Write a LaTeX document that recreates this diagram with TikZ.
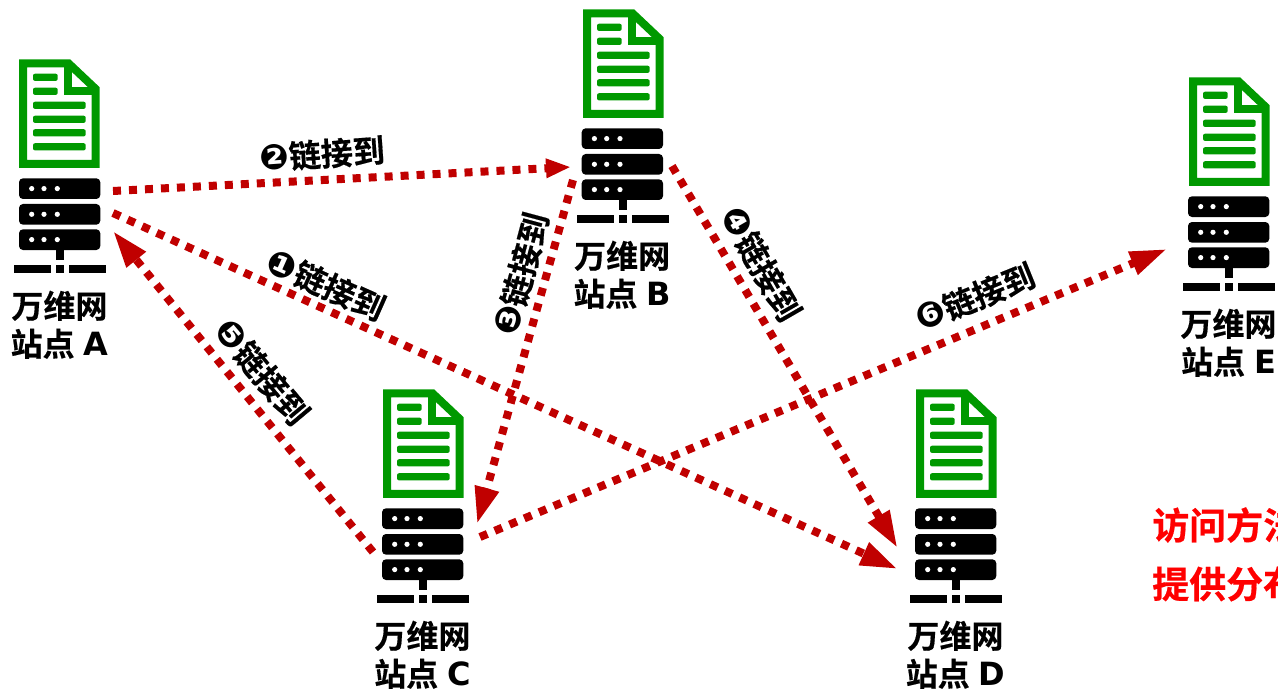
\documentclass[tikz,border=0pt]{standalone}
\usepackage{fontspec}
\setmainfont{Noto Sans CJK SC}[BoldFont={Noto Sans CJK SC Bold},BoldFeatures={FakeBold=0.5}]
\newfontfamily\numfont{DejaVu Sans}
\usetikzlibrary{arrows.meta}
\definecolor{docgreen}{HTML}{009900}
\definecolor{linkred}{HTML}{C00000}
\newcommand{\circnum}[1]{{\fontsize{35}{35}\selectfont\numfont #1}}
\tikzset{
  x=1pt,y=-1pt,
  docline/.style={docgreen,line width=8pt,line join=miter},
  docbar/.style={fill=docgreen,rounded corners=2pt},
  rack/.style={fill=black,rounded corners=4pt},
  led/.style={fill=white},
  sitelabel/.style={font=\fontsize{32}{32}\selectfont\bfseries,inner sep=0pt,anchor=center},
  linktext/.style={font=\fontsize{32}{32}\selectfont\bfseries,inner sep=0pt,anchor=center},
  link/.style={linkred,line width=8pt,dash pattern=on 8pt off 8pt,
    -{Triangle[length=37pt,width=23pt,sep=0pt]}},
  shortlink/.style={linkred,line width=8pt,dash pattern=on 8pt off 8pt,
    -{Triangle[length=25pt,width=18pt,sep=0pt]}},
  note/.style={font=\fontsize{37}{37}\selectfont\bfseries,text=red,inner sep=0pt,anchor=west},
  pics/site/.style n args={2}{code={
    \begin{scope}[xshift=#2pt]
    \draw[docline] (4,4) -- (49.5,4) -- (76.5,29.5) -- (76.5,104.5) -- (4,104.5) -- cycle;
    \draw[docline] (49,4) -- (49,31.5) -- (76.5,31.5);
    \foreach \yy/\xx in {18/38.7,32/38.7,46/66.7,60/66.7,73.5/66.7,87.5/66.7}
      \path[docbar] (14,\yy-3.6) rectangle (\xx,\yy+3.6);
    \end{scope}
    \foreach \yy in {119,144.7,170}{
      \fill[rack] (0,\yy) rectangle (81.3,\yy+20.7);
      \foreach \xx in {12.7,25,38.3}
        \fill[led] (\xx,\yy+10.3) circle (2.6);
    }
    \fill (37,190) rectangle (45,201);
    \fill (-5,205.7) rectangle (32,213.4);
    \fill (37,205.7) rectangle (45,213.4);
    \fill (50,205.7) rectangle (87,213.4);
    \node[sitelabel] at (40.5,246.5) {万维网};
    \node[sitelabel] at (40.5,284.5) {站点\hspace{9pt}{\numfont #1}};
  }},
}
\begin{document}
\begin{tikzpicture}
\useasboundingbox (0,0) rectangle (1278,690);
\clip (0,0) rectangle (1278,690);
\pic at (19,59.3) {site={A}{0}};
\pic at (581.7,9.3) {site={B}{1.3}};
\pic at (382,389.3) {site={C}{1}};
\pic at (915,389.3) {site={D}{1}};
\pic at (1188,77.3) {site={E}{1}};
\coordinate (a1) at (113,213);
\coordinate (d1) at (897.5,569);
\coordinate (a2) at (113,191);
\coordinate (b2) at (571,167);
\coordinate (b3) at (573,180);
\coordinate (c3) at (477,524);
\coordinate (b4) at (672,166);
\coordinate (d4) at (897.5,548);
\coordinate (c5) at (373,552);
\coordinate (a5) at (113,231);
\coordinate (c6) at (480,537);
\coordinate (e6) at (1167,249);
\draw[link] (a1) -- (d1);
\draw[shortlink] (a2) -- (b2);
\draw[link] (b3) -- (c3);
\draw[link] (b4) -- (d4);
\draw[link] (c5) -- (a5);
\draw[link] (c6) -- (e6);
\node[linktext,rotate=-24] (l1) at (326,285) {\circnum{❶}链接到};
\node[linktext,rotate=4] (l2) at (322,154) {\circnum{❷}链接到};
\node[linktext,rotate=75] (l3) at (521,274) {\circnum{❸}链接到};
\node[linktext,rotate=-60] (l4) at (761,264) {\circnum{❹}链接到};
\node[linktext,rotate=-50] (l5) at (262,372) {\circnum{❺}链接到};
\node[linktext,rotate=22] (l6) at (975,297) {\circnum{❻}链接到};
\node[note] (n1) at (1152,525) {访问方法};
\node[note] (n2) at (1152,584) {提供分布};
\end{tikzpicture}
\end{document}
